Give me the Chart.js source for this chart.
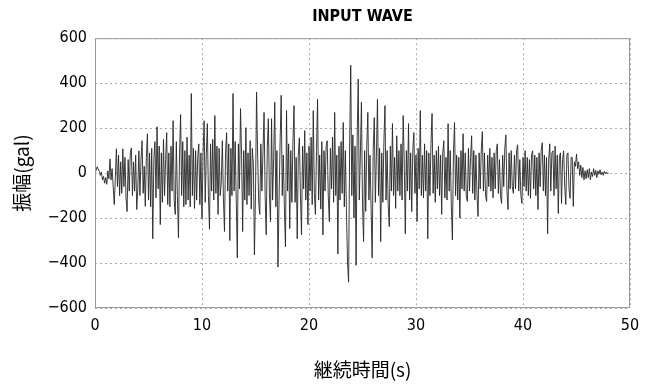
<!DOCTYPE html>
<html>
<head>
<meta charset="utf-8">
<script src="https://cdn.jsdelivr.net/npm/chart.js@4"></script>
<style>
  html, body { margin: 0; padding: 0; background: #fff; }
  #wave { display: block; }
</style>
</head>
<body>
<canvas id="wave" width="650" height="387"></canvas>
<script>
// sampling interval of the record (s)
var dt = 0.1;

// acceleration (gal), one row per second
var accel = [
  0, 12, 28, 18, 8, -10, 5, -30, -15, -45,
  -20, -50, 10, -25, 63, -30, 20, -60, -140, -20,
  108, -60, 80, -100, 50, -90, 108, -60, 70, -110,
  -171, 60, -80, 90, 112, -100, 50, -80, 80, -162,
  -70, 99, -100, 60, 144, -90, 30, -148, 70, 175,
  -120, 90, -150, 110, -292, 60, 140, -110, 206, -70,
  120, -229, 90, -130, 150, -100, 60, 180, -140, 90,
  -150, 120, -80, 233, -120, -184, 140, -100, -288, 80,
  260, -100, 140, -150, 100, -140, 160, -120, 80, -150,
  354, -100, 110, -157, 100, -120, 70, 130, -140, 90,
  -202, 90, 233, -130, 80, 220, -100, -250, 130, -80,
  150, -120, 256, -90, 120, -184, 110, -100, -40, 144,
  -110, -260, 90, 180, -80, 130, -300, 110, -100, 354,
  -80, 140, -120, -377, 130, -70, 287, 80, -260, 100,
  -120, 202, -140, 90, -100, 144, -160, 110, 40, -364,
  -90, 360, 80, -130, -184, 130, -80, 100, 270, -100,
  -274, 110, 242, -90, -216, 242, -120, 70, 315, -150,
  100, -418, -120, 140, 346, -100, 80, -160, -328, 278,
  -80, 130, -247, 100, -130, 140, 300, -130, 70, -292,
  80, 157, -100, -274, 120, -70, 189, -120, 90, -229,
  120, -80, 160, -140, 278, -90, -184, 100, 328, -120,
  80, -160, 140, -275, 100, -80, 120, 144, -100, -216,
  110, -70, 160, -130, 270, -100, 80, -360, 120, -120,
  140, -90, 225, -150, 100, -170, -395, -485, 130, 480,
  -100, 170, -200, 120, -410, 150, 418, -120, 80, 315,
  -140, -305, 100, -170, 120, 270, -120, 80, -150, -377,
  100, 247, -130, 80, 328, -100, 110, -305, 90, -130,
  140, 300, -120, 100, -140, -238, 120, -80, 220, -100,
  70, -157, 166, -80, 100, -100, 130, -120, 256, 50,
  -270, 100, -80, 220, -120, 90, -171, 100, 180, -90,
  80, -216, 110, -70, 278, -100, 80, -110, 130, -80,
  100, -292, 90, -100, 130, 265, -90, 80, -130, 100,
  -70, 120, -100, 80, -184, 90, 144, -110, 70, -120,
  220, -80, 100, -140, -297, 90, 225, -100, 80, -120,
  70, -200, 100, -70, 175, -80, 90, -100, -126, 110,
  -80, 70, 166, -90, 100, -120, 80, -100, -193, 90,
  -70, 100, 184, -80, 90, -100, -126, 80, -60, 110,
  -80, 70, -110, 90, -70, 100, 130, -90, 60, -100,
  -135, 80, -60, 110, 170, -80, -162, 90, -70, 100,
  -60, -90, 80, -70, 100, 126, -80, 60, -100, -135,
  70, -60, 100, -80, 70, -100, 60, -112, 80, 99,
  -70, 80, -100, 70, -162, 90, -60, 100, 135, -80,
  80, -100, 70, -270, 60, 130, -80, 90, 99, -100,
  120, -70, 80, -180, 70, 90, -135, 60, 99, -60,
  -140, 80, 90, -70, -112, 70, 70, -148, 50, 30,
  85, 20, 50, -10, 35, -20, 25, -30, 10, -25,
  15, -20, 20, -30, 5, -15, 20, -10, 12, -20,
  10, -5, 15, -8, 5, -10, 8, -3, 5, -2,
  0
];

var xTicks = [0, 10, 20, 30, 40, 50];
var yTicks = [-600, -400, -200, 0, 200, 400, 600];

var points = accel.map(function (v, i) {
  return { x: Math.round(i * dt * 10) / 10, y: v };
});

var narrow = "'DejaVu Sans Condensed', 'Liberation Sans Narrow', sans-serif";
var labelFont = { family: narrow, size: 16 };
var jpFont = { family: "'Noto Sans CJK JP', sans-serif", size: 19 };

// solid grey box round the plot area
var frame = {
  id: 'frame',
  afterDatasetsDraw: function (chart) {
    var a = chart.chartArea;
    var c = chart.ctx;
    c.save();
    c.strokeStyle = '#999';
    c.lineWidth = 1;
    c.strokeRect(a.left + 0.5, a.top + 0.5, a.right - a.left - 1, a.bottom - a.top - 1);
    c.restore();
  }
};

var ctx = document.getElementById('wave');

var myChart = new Chart(ctx, {
  type: 'line',
  data: {
    datasets: [{
      data: points,
      borderColor: '#262626',
      borderWidth: 0.9,
      pointRadius: 0,
      tension: 0,
      fill: false
    }]
  },
  options: {
    responsive: false,
    animation: false,
    layout: { padding: { top: 0, right: 20, bottom: 0, left: 0 } },
    plugins: {
      legend: { display: false },
      tooltip: { enabled: false },
      title: {
        display: true,
        text: 'INPUT WAVE',
        fullSize: false,
        color: '#000',
        font: { family: narrow, size: 16, weight: 'bold' },
        padding: { top: 7, bottom: 12 }
      }
    },
    scales: {
      x: {
        type: 'linear',
        min: xTicks[0],
        max: xTicks[xTicks.length - 1],
        afterBuildTicks: function (s) {
          s.ticks = xTicks.map(function (v) { return { value: v }; });
        },
        afterFit: function (s) { s.height = 79; },
        ticks: { color: '#000', font: labelFont, padding: 8, maxRotation: 0 },
        grid: { color: '#aaa', lineWidth: 1, drawTicks: false },
        border: { display: false, dash: [2, 3] },
        title: { display: true, text: '継続時間(s)', color: '#000', font: jpFont, padding: { top: 0, bottom: 6 } }
      },
      y: {
        min: yTicks[0],
        max: yTicks[yTicks.length - 1],
        afterBuildTicks: function (s) {
          s.ticks = yTicks.map(function (v) { return { value: v }; });
        },
        afterFit: function (s) { s.width = 95; },
        ticks: {
          color: '#000',
          font: labelFont,
          padding: 8,
          callback: function (v) { return v < 0 ? '\u2212' + Math.abs(v) : '' + v; }
        },
        grid: { color: '#aaa', lineWidth: 1, drawTicks: false },
        border: { display: false, dash: [2, 3] },
        title: { display: true, text: '振幅(gal)', color: '#000', font: jpFont, padding: { top: 10, bottom: 0 } }
      }
    }
  },
  plugins: [frame]
});
</script>
</body>
</html>
